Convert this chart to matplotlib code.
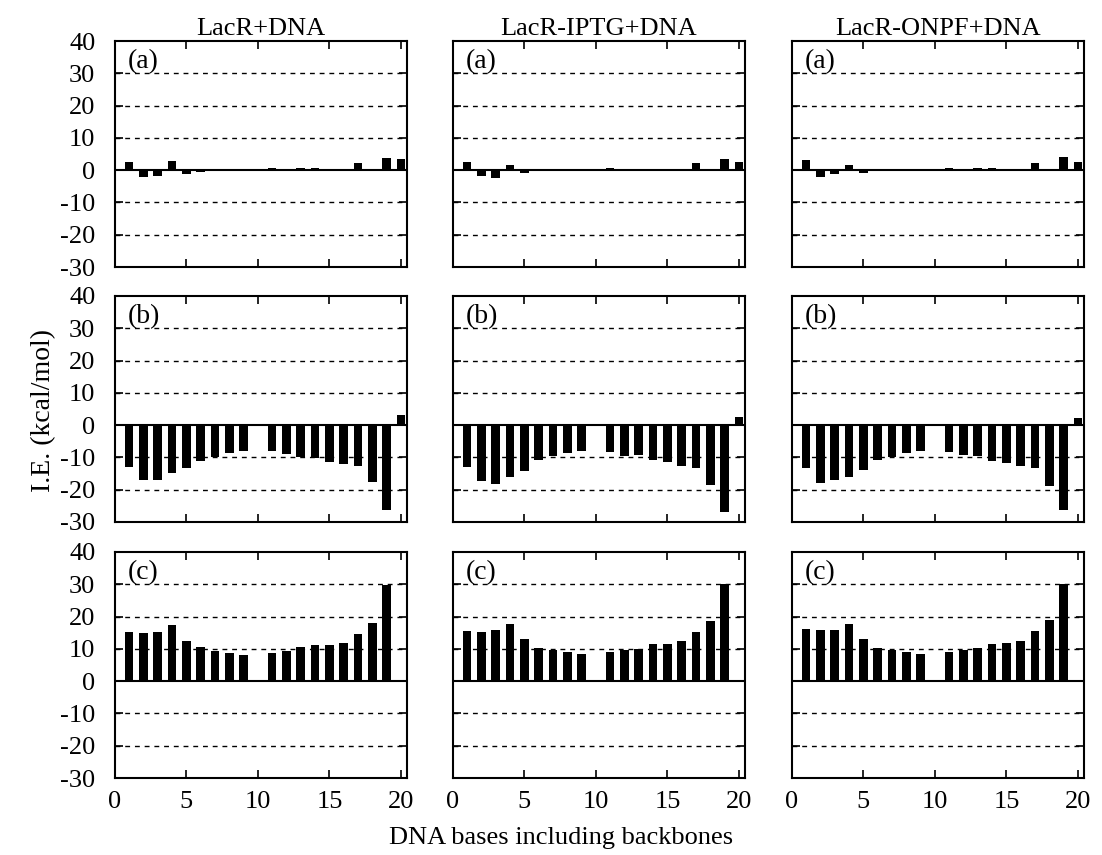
import matplotlib
matplotlib.use('Agg')
import matplotlib.pyplot as plt
import numpy as np

plt.rcParams['font.family'] = ['Liberation Serif', 'DejaVu Serif']
plt.rcParams['axes.unicode_minus'] = False

bases = np.arange(1, 21)
systems = ['LacR+DNA', 'LacR-IPTG+DNA', 'LacR-ONPF+DNA']
rows = ['(a)', '(b)', '(c)']

# interaction energies per base, one list per system and row
ie_a_lacr = [2.4, -2.0, -1.8, 2.8, -1.2, -0.5, -0.2, 0.1, 0.2, 0.0,
             0.6, 0.2, 0.6, 0.7, 0.2, 0.1, 2.1, 0.3, 3.9, 3.3]
ie_b_lacr = [-12.9, -16.9, -17.1, -14.9, -13.3, -11.1, -9.8, -8.6, -8.0, 0.0,
             -8.0, -9.0, -9.8, -10.3, -11.3, -11.9, -12.7, -17.7, -26.2, 3.1]
ie_c_lacr = [15.2, 14.9, 15.3, 17.4, 12.3, 10.7, 9.4, 8.7, 8.2, 0.0,
             8.6, 9.2, 10.7, 11.1, 11.3, 11.9, 14.7, 18.1, 29.9, 0.0]

ie_a_iptg = [2.4, -1.9, -2.4, 1.7, -1.0, -0.4, -0.1, 0.1, 0.1, 0.0,
             0.6, 0.2, 0.5, 0.5, 0.1, 0.1, 2.1, 0.3, 3.4, 2.6]
ie_b_iptg = [-13.1, -17.2, -18.2, -16.1, -14.1, -10.8, -9.7, -8.7, -8.1, 0.0,
             -8.3, -9.5, -9.3, -10.8, -11.4, -12.6, -13.2, -18.4, -26.9, 2.5]
ie_c_iptg = [15.4, 15.2, 15.7, 17.7, 13.0, 10.4, 9.5, 8.9, 8.3, 0.0,
             8.9, 9.5, 10.1, 11.4, 11.4, 12.4, 15.1, 18.7, 30.0, 0.0]

ie_a_onpf = [3.0, -2.2, -1.3, 1.7, -0.8, -0.4, -0.1, 0.1, 0.2, 0.0,
             0.6, 0.2, 0.6, 0.6, 0.1, 0.1, 2.3, 0.2, 4.1, 2.5]
ie_b_onpf = [-13.3, -17.8, -17.1, -16.2, -13.8, -10.8, -10.0, -8.7, -8.0, 0.0,
             -8.4, -9.4, -9.6, -11.0, -11.6, -12.6, -13.4, -18.8, -26.2, 2.3]
ie_c_onpf = [16.1, 15.7, 15.8, 17.7, 12.9, 10.4, 9.5, 9.0, 8.4, 0.0,
             8.9, 9.5, 10.2, 11.6, 11.7, 12.4, 15.4, 18.9, 30.0, 0.0]

data = [[ie_a_lacr, ie_a_iptg, ie_a_onpf],
        [ie_b_lacr, ie_b_iptg, ie_b_onpf],
        [ie_c_lacr, ie_c_iptg, ie_c_onpf]]

W, H = 1102., 855.
col_left = [114.7, 452.7, 791.7]
col_w = 292.
row_top = [41., 296., 552.]
row_h = 226.

fig = plt.figure(figsize=(W / 100, H / 100), dpi=100)

for i in range(3):
    for j in range(3):
        ax = fig.add_axes([col_left[j] / W, 1 - (row_top[i] + row_h) / H,
                           col_w / W, row_h / H])
        for y in [-20, -10, 10, 20, 30]:
            ax.axhline(y, color='k', lw=1, dashes=(3.5, 3.5), zorder=0)
        ax.axhline(0, color='k', lw=1.5, zorder=3)
        ax.bar(bases, data[i][j], width=0.6, color='k', zorder=2)

        ax.set_xlim(0, 20.4)
        ax.set_ylim(-30, 40)
        ax.set_xticks([0, 5, 10, 15, 20])
        ax.set_yticks(np.arange(-30, 41, 10))
        ax.tick_params(direction='in', top=True, right=True, length=6,
                       width=1.2, labelsize=19)
        ax.tick_params(axis='y', pad=14)
        ax.tick_params(axis='x', pad=9)
        if j > 0:
            ax.set_yticklabels([])
        if i < 2:
            ax.set_xticklabels([])
        for s in ax.spines.values():
            s.set_linewidth(1.5)
        ax.text(0.9, 37.5, rows[i], fontsize=20, va='top', ha='left')
        if i == 0:
            ax.set_title(systems[j], fontsize=19, pad=4)

fig.text(44 / W, 1 - 410 / H, 'I.E. (kcal/mol)', rotation=90,
         fontsize=20, ha='center', va='center')
fig.text(561 / W, 1 - 838 / H, 'DNA bases including backbones',
         fontsize=19, ha='center', va='center')

plt.savefig('out.png', dpi=100)
